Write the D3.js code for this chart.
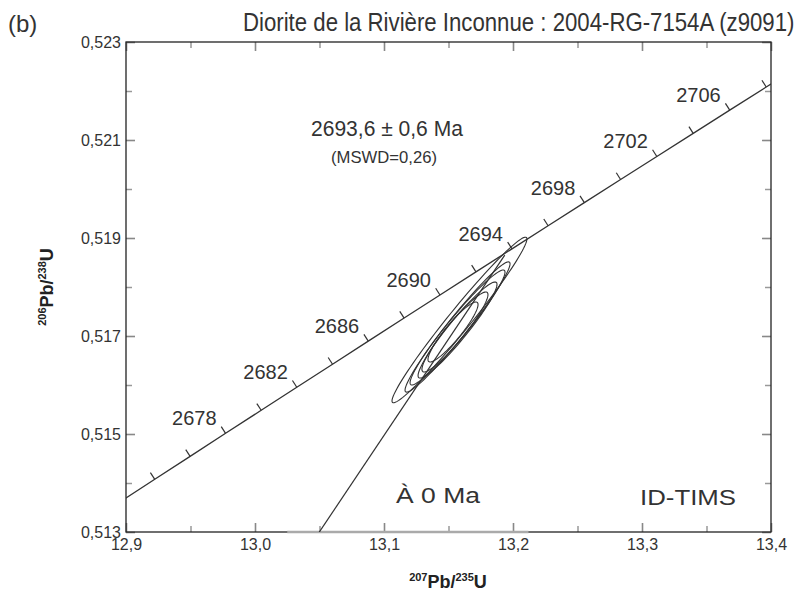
<!DOCTYPE html>
<html>
<head>
<meta charset="utf-8">
<script src="https://cdn.jsdelivr.net/npm/d3@7"></script>
<style>
  body { margin: 0; background: #fff; }
  svg { display: block; font-family: "Liberation Sans", Arial, sans-serif; }
</style>
</head>
<body>
<div id="chart"></div>
<script>
// axis ticks
var xMajor = [12.9, 13.0, 13.1, 13.2, 13.3, 13.4];
var xMinor = [12.95, 13.05, 13.15, 13.25, 13.35];
var yMajor = [0.513, 0.515, 0.517, 0.519, 0.521, 0.523];
var yMinor = [0.514, 0.516, 0.518, 0.520, 0.522];

// concordia marks (Ma) and their 207Pb/235U, 206Pb/238U positions
var concAge = [2672, 2674, 2676, 2678, 2680, 2682, 2684, 2686, 2688, 2690, 2692, 2694, 2696, 2698, 2700, 2702, 2704, 2706, 2708, 2710];
var concX = [12.8949, 12.9223, 12.9497, 12.9772, 13.0048, 13.0324, 13.0601, 13.0878, 13.1156, 13.1434, 13.1713, 13.1992, 13.2272, 13.2553, 13.2834, 13.3115, 13.3397, 13.3680, 13.3963, 13.4247];
var concY = [0.513605, 0.514075, 0.514544, 0.515014, 0.515484, 0.515954, 0.516424, 0.516895, 0.517366, 0.517837, 0.518308, 0.518779, 0.519250, 0.519721, 0.520193, 0.520664, 0.521136, 0.521609, 0.522081, 0.522553];
var labelAges = [2678, 2682, 2686, 2690, 2694, 2698, 2702, 2706];

// discordia: lower intercept (0 Ma) to upper intercept
var discX = [0, 13.1936];
var discY = [0, 0.51865];

// error ellipses: centre, half ranges, correlation
var ellCx  = [13.1585, 13.1570, 13.1570, 13.1570, 13.1550, 13.1535];
var ellCy  = [0.517327, 0.517184, 0.517174, 0.517122, 0.517082, 0.517082];
var ellHx  = [0.0523, 0.0407, 0.0368, 0.0306, 0.0256, 0.0194];
var ellHy  = [0.00169, 0.00133, 0.001173, 0.00098, 0.000816, 0.000612];
var ellRho = [0.978, 0.970, 0.962, 0.950, 0.935, 0.915];

var grayBand = [13.025, 13.212];

(function(){
  var W = 804, H = 593;
  var pl = 126, pr = 771, pt = 42, pb = 532;

  var loc = d3.formatLocale({decimal: ",", thousands: " ", grouping: [3], currency: ["", ""]});
  var fx = loc.format(".1f"), fy = loc.format(".3f");

  var x = d3.scaleLinear().domain([12.9, 13.4]).range([pl, pr]);
  var y = d3.scaleLinear().domain([0.513, 0.523]).range([pb, pt]);

  var svg = d3.select("#chart").append("svg").attr("width", W).attr("height", H);

  svg.append("clipPath").attr("id", "plotclip").append("rect")
    .attr("x", pl).attr("y", pt).attr("width", pr - pl).attr("height", pb - pt);

  // squeeze a text horizontally to a given width (narrow font look)
  function fitText(sel, tx, ty, w, anchor){
    var natural = sel.node().getComputedTextLength();
    var s = w / natural;
    var off = anchor === "middle" ? -w / 2 : 0;
    sel.attr("x", 0).attr("y", 0)
      .attr("transform", "translate(" + (tx + off) + "," + ty + ") scale(" + s + ",1)");
  }

  // minor ticks
  function minorAxis(axis, scale, vals, tr, size){
    var g = svg.append("g").attr("transform", tr)
      .call(axis(scale).tickValues(vals).tickSizeInner(size).tickSizeOuter(0).tickFormat(""));
    g.select(".domain").remove();
    g.selectAll("line").attr("stroke", "#999").attr("stroke-width", 1.5);
  }
  minorAxis(d3.axisBottom, x, xMinor, "translate(0," + pb + ")", -6);
  minorAxis(d3.axisTop, x, xMinor, "translate(0," + pt + ")", -6);
  minorAxis(d3.axisLeft, y, yMinor, "translate(" + pl + ",0)", -6);
  minorAxis(d3.axisRight, y, yMinor, "translate(" + pr + ",0)", -6);

  // major ticks with labels
  var gx = svg.append("g").attr("transform", "translate(0," + pb + ")")
    .call(d3.axisBottom(x).tickValues(xMajor).tickSizeInner(-9).tickSizeOuter(0).tickPadding(7).tickFormat(fx));
  var gy = svg.append("g").attr("transform", "translate(" + pl + ",0)")
    .call(d3.axisLeft(y).tickValues(yMajor).tickSizeInner(-9).tickSizeOuter(0).tickPadding(5).tickFormat(fy));
  var gt = svg.append("g").attr("transform", "translate(0," + pt + ")")
    .call(d3.axisTop(x).tickValues(xMajor).tickSizeInner(-9).tickSizeOuter(0).tickFormat(""));
  var gr = svg.append("g").attr("transform", "translate(" + pr + ",0)")
    .call(d3.axisRight(y).tickValues(yMajor).tickSizeInner(-9).tickSizeOuter(0).tickFormat(""));

  [gx, gy, gt, gr].forEach(function(g){
    g.select(".domain").remove();
    g.attr("font-size", 16).attr("font-family", null);
    g.selectAll("line").attr("stroke", "#888").attr("stroke-width", 1.6);
    g.selectAll("text").attr("fill", "#333");
  });

  // frame
  svg.append("rect").attr("x", pl).attr("y", pt).attr("width", pr - pl).attr("height", pb - pt)
    .attr("fill", "none").attr("stroke", "#222").attr("stroke-width", 1.3);

  svg.append("line")
    .attr("x1", x(grayBand[0])).attr("x2", x(grayBand[1])).attr("y1", pb).attr("y2", pb)
    .attr("stroke", "#aaa").attr("stroke-width", 2.5);

  var plot = svg.append("g").attr("clip-path", "url(#plotclip)");

  // concordia
  var concPts = concAge.map(function(a, i){ return {age: a, x: concX[i], y: concY[i]}; });
  plot.append("path").datum(concPts)
    .attr("d", d3.line().x(function(d){ return x(d.x); }).y(function(d){ return y(d.y); }))
    .attr("fill", "none").attr("stroke", "#333").attr("stroke-width", 1.3);

  concPts.forEach(function(d, i){
    if(d.x < 12.9 || d.x > 13.4) return;
    var j = Math.min(i + 1, concPts.length - 1), k = Math.max(i - 1, 0);
    var dx = x(concPts[j].x) - x(concPts[k].x), dy = y(concPts[j].y) - y(concPts[k].y);
    var n = Math.sqrt(dx * dx + dy * dy);
    var px = dy / n, py = -dx / n; // normal pointing up-left
    var cx = x(d.x), cy = y(d.y);
    plot.append("line")
      .attr("x1", cx).attr("y1", cy).attr("x2", cx + px * 8).attr("y2", cy + py * 8)
      .attr("stroke", "#333").attr("stroke-width", 1.2);
    if(labelAges.indexOf(d.age) >= 0){
      svg.append("text").attr("x", cx - 9).attr("y", cy - 8)
        .attr("text-anchor", "end").attr("font-size", 20).attr("fill", "#333")
        .text(d.age);
    }
  });

  // discordia
  plot.append("line")
    .attr("x1", x(discX[0])).attr("y1", y(discY[0])).attr("x2", x(discX[1])).attr("y2", y(discY[1]))
    .attr("stroke", "#333").attr("stroke-width", 1.2);

  // ellipses
  ellCx.forEach(function(c, i){
    var pts = d3.range(0, 101).map(function(t){
      var th = t / 100 * 2 * Math.PI;
      var ex = c + ellHx[i] * Math.cos(th);
      var ey = ellCy[i] + ellHy[i] * (ellRho[i] * Math.cos(th) + Math.sqrt(1 - ellRho[i] * ellRho[i]) * Math.sin(th));
      return [x(ex), y(ey)];
    });
    plot.append("path").attr("d", d3.line()(pts) + "Z")
      .attr("fill", "none").attr("stroke", "#333").attr("stroke-width", 1.1);
  });

  // titles and notes
  svg.append("text").attr("x", 8).attr("y", 32).attr("font-size", 24).attr("fill", "#333").text("(b)");
  fitText(svg.append("text").attr("font-size", 25).attr("fill", "#333")
    .text("Diorite de la Rivière Inconnue : 2004-RG-7154A (z9091)"), 243, 31, 552);

  fitText(svg.append("text").attr("font-size", 22).attr("fill", "#333")
    .text("2693,6 ± 0,6 Ma"), 387, 136, 152, "middle");
  fitText(svg.append("text").attr("font-size", 16).attr("fill", "#333")
    .text("(MSWD=0,26)"), 384, 163, 106, "middle");

  fitText(svg.append("text").attr("font-size", 22).attr("fill", "#333").text("À 0 Ma"), 396, 503, 84);
  fitText(svg.append("text").attr("font-size", 22).attr("fill", "#333").text("ID-TIMS"), 640, 505, 96);

  // axis titles
  var xl = svg.append("text").attr("x", 448).attr("y", 588).attr("text-anchor", "middle")
    .attr("fill", "#222").attr("font-weight", "bold").attr("font-size", 18);
  xl.append("tspan").attr("font-size", 11).attr("dy", -7).text("207");
  xl.append("tspan").attr("dy", 7).text("Pb/");
  xl.append("tspan").attr("font-size", 11).attr("dy", -7).text("235");
  xl.append("tspan").attr("dy", 7).text("U");

  var yl = svg.append("text").attr("transform", "translate(53,287) rotate(-90)").attr("text-anchor", "middle")
    .attr("fill", "#222").attr("font-weight", "bold").attr("font-size", 18);
  yl.append("tspan").attr("font-size", 11).attr("dy", -7).text("206");
  yl.append("tspan").attr("dy", 7).text("Pb/");
  yl.append("tspan").attr("font-size", 11).attr("dy", -7).text("238");
  yl.append("tspan").attr("dy", 7).text("U");
})();
</script>
</body>
</html>
